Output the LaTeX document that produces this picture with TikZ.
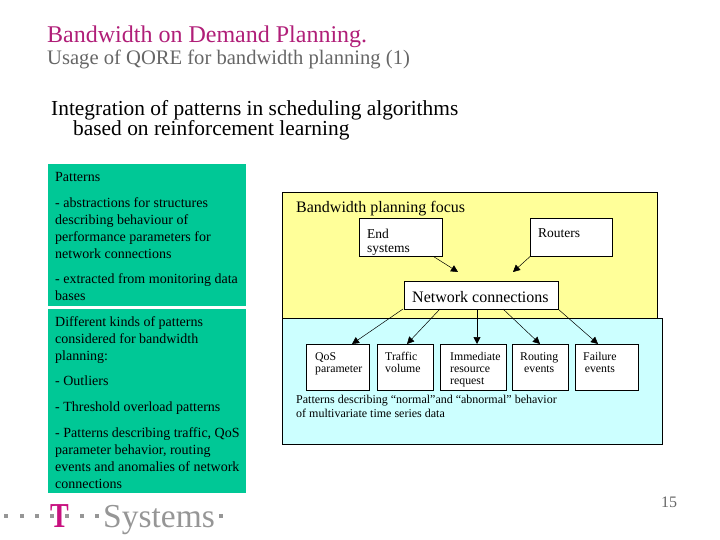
\documentclass[tikz,border=0pt]{standalone}
\usepackage{fontspec}
\setmainfont{Liberation Serif}
\usetikzlibrary{arrows.meta}
\definecolor{panelgreen}{HTML}{00C896}
\definecolor{focusyellow}{HTML}{FFFF99}
\definecolor{patternblue}{HTML}{CCFFFF}
\definecolor{titlepink}{HTML}{B01E78}
\definecolor{subgray}{HTML}{666666}
\definecolor{logogray}{HTML}{969696}
\definecolor{logopink}{HTML}{C8107F}
\tikzset{
  panel/.style={draw=none,fill=panelgreen,anchor=north west,inner sep=0pt},
  area/.style={draw=black,line width=0.6pt,anchor=north west,inner sep=0pt},
  box/.style={draw=black,line width=0.6pt,fill=white,anchor=north west,inner sep=0pt},
  txt/.style={anchor=north west,inner sep=0pt,align=left},
  dotsq/.style={fill=logogray,minimum size=4.5pt,inner sep=0pt},
  conn/.style={line width=0.5pt,-{Triangle[length=7pt,width=7pt]}}
}
\begin{document}
\begin{tikzpicture}[x=1pt,y=-1pt]
\useasboundingbox (0,0) rectangle (720,540);

\node[txt,text=titlepink,font=\fontsize{24}{26}\selectfont] (title) at (47,26) {Bandwidth on Demand Planning.};
\node[txt,text=subgray,font=\fontsize{20.6}{22}\selectfont] (subtitle) at (47,49.5) {Usage of QORE for bandwidth planning (1)};
\node[txt,font=\fontsize{21.4}{23}\selectfont] (headone) at (51,100) {Integration of patterns in scheduling algorithms};
\node[txt,font=\fontsize{21.4}{23}\selectfont] (headtwo) at (73,120) {based on reinforcement learning};

% left panels
\node[panel,minimum width=198pt,minimum height=142pt] (panelone) at (48,164) {};
\node[panel,minimum width=198pt,minimum height=184pt] (paneltwo) at (48,309) {};
\node[txt,font=\fontsize{14}{17}\selectfont] (paneltextone) at (55,172) {Patterns\\[9pt]
- abstractions for structures\\describing behaviour of\\performance parameters for\\network connections\\[8pt]
- extracted from monitoring data\\bases};
\node[txt,font=\fontsize{14}{17}\selectfont] (paneltexttwo) at (55,316.5) {Different kinds of patterns\\considered for bandwidth\\planning:\\[8pt]
- Outliers\\[9pt]
- Threshold overload patterns\\[9pt]
- Patterns describing traffic, QoS\\parameter behavior, routing\\events and anomalies of network\\connections};

% focus and pattern areas
\node[area,fill=focusyellow,minimum width=375pt,minimum height=126pt] (focus) at (282,192) {};
\node[area,fill=patternblue,minimum width=380pt,minimum height=126pt] (patternarea) at (282,318) {};
\node[txt,font=\fontsize{16}{18}\selectfont] (focustext) at (296,201.5) {Bandwidth planning focus};

\node[box,minimum width=83pt,minimum height=38pt] (endsys) at (359,218) {};
\node[txt,font=\fontsize{13.5}{14.5}\selectfont] (endtext) at (367,228.5) {End\\systems};
\node[box,minimum width=82pt,minimum height=38pt] (routers) at (530,218) {};
\node[txt,font=\fontsize{13.5}{14.5}\selectfont] (routertext) at (538,228.5) {Routers};
\node[box,minimum width=154pt,minimum height=28pt,font=\fontsize{16}{18}\selectfont] (net) at (404,281) {};
\node[txt,font=\fontsize{16}{18}\selectfont] (nettext) at (412,291) {Network connections};

\node[box,minimum width=63pt,minimum height=46pt] (qos) at (306,344) {};
\node[box,minimum width=56pt,minimum height=46pt] (traffic) at (377,344) {};
\node[box,minimum width=66pt,minimum height=46pt] (immediate) at (440,344) {};
\node[box,minimum width=56pt,minimum height=46pt] (routing) at (512,344) {};
\node[box,minimum width=63pt,minimum height=46pt] (failure) at (575,344) {};

\node[txt,font=\fontsize{11.8}{12.3}\selectfont] (qostext) at (315,352) {QoS\\parameter};
\node[txt,font=\fontsize{11.8}{12.3}\selectfont] (traffictext) at (385,351.5) {Traffic\\volume};
\node[txt,font=\fontsize{11.8}{12.3}\selectfont] (immediatetext) at (450,352) {Immediate\\resource\\request};
\node[txt,align=center,font=\fontsize{11.8}{12.3}\selectfont] (routingtext) at (520,352) {Routing\\events};
\node[txt,align=center,font=\fontsize{11.8}{12.3}\selectfont] (failuretext) at (583,352) {Failure\\events};
\node[txt,font=\fontsize{12}{14}\selectfont] (patterntext) at (296,394.5) {Patterns describing ``normal''and ``abnormal'' behavior\\of multivariate time series data};

% free ends
\coordinate (endtip) at (458,272);
\coordinate (routertip) at (513,272);
\coordinate (netq) at (403,309);
\coordinate (nett) at (440,309);
\coordinate (neti) at (477,309);
\coordinate (netr) at (503,309);
\coordinate (netf) at (558,309);
\coordinate (qostop) at (352,344);
\coordinate (traffictop) at (407,344);
\coordinate (immediatetop) at (477,344);
\coordinate (routingtop) at (540,344);
\coordinate (failuretop) at (598,344);
\draw[conn] (endsys.south east) ++(-9,0) -- (endtip);
\draw[conn] (routers.south west) -- (routertip);
\draw[conn] (netq) -- (qostop);
\draw[conn] (nett) -- (traffictop);
\draw[conn] (neti) -- (immediatetop);
\draw[conn] (netr) -- (routingtop);
\draw[conn] (netf) -- (failuretop);

% logo
\foreach \x in {6,22,37,52,67,82,97,221}
  \node[dotsq] (sq\x) at (\x,516) {};
\node[inner sep=0pt,xscale=.8,anchor=base,text=logopink,font=\bfseries\fontsize{35}{36}\selectfont] (logot) at (59.5,527) {T};
\node[inner sep=0pt,anchor=base west,text=logogray,font=\fontsize{33.5}{36}\selectfont] (logoname) at (103,527) {Systems};

\node[inner sep=0pt,text=subgray,font=\fontsize{16}{16}\selectfont] (pagenum) at (669,502) {15};
\end{tikzpicture}
\end{document}
